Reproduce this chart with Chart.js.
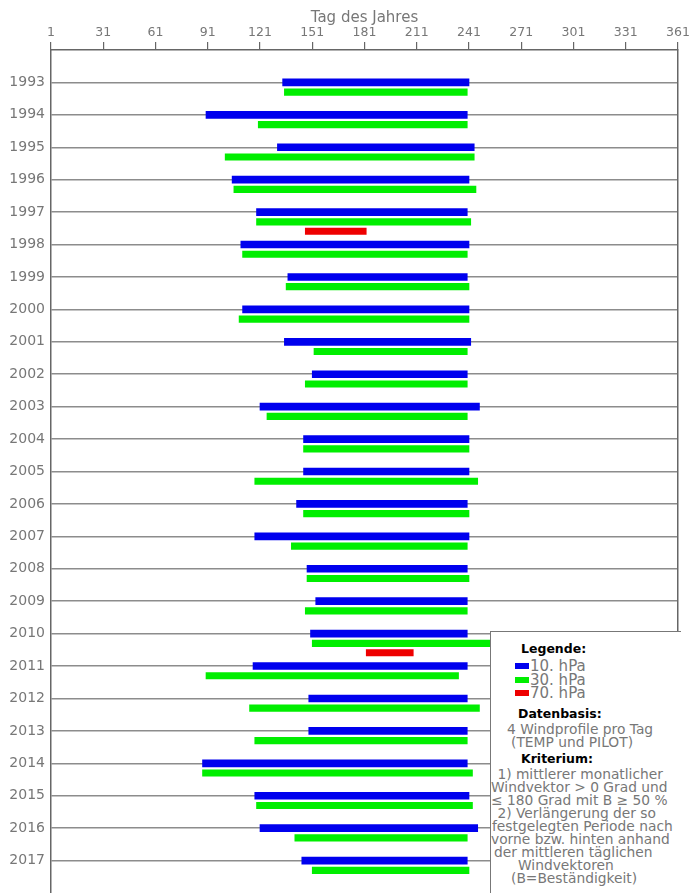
<!DOCTYPE html>
<html>
<head>
<meta charset="utf-8">
<script src="https://cdn.jsdelivr.net/npm/chart.js@4.4.1/dist/chart.umd.min.js"></script>
<style>
body { margin: 0; background: #fff; }
#wrap { position: relative; width: 689px; height: 893px; overflow: hidden; }
#legende {
    position: absolute; left: 490px; top: 631px; width: 190px; height: 270px;
    background: #fff; border-top: 1.5px solid #777; border-left: 1.5px solid #777;
    font-family: "DejaVu Sans", sans-serif;
}
#legende div { position: absolute; white-space: pre; line-height: 16px; font-size: 13.8px; color: #777; }
#legende .head { color: #000; font-weight: bold; font-size: 12.5px; }
#legende .item { font-size: 15px; }
#legende .sw { display: inline-block; width: 14px; height: 6px; vertical-align: 2px; margin-right: 1px; }
</style>
</head>
<body>
<div id="wrap">
    <canvas id="windChart" width="689" height="893"></canvas>
    <div id="legende"></div>
</div>
<script>
const fontFam = "'DejaVu Sans', sans-serif";

// Tag des Jahres (x), Jahre (y)
const years = [1993, 1994, 1995, 1996, 1997, 1998, 1999, 2000, 2001, 2002, 2003, 2004, 2005,
    2006, 2007, 2008, 2009, 2010, 2011, 2012, 2013, 2014, 2015, 2016, 2017];
const dayTicks = [1, 31, 61, 91, 121, 151, 181, 211, 241, 271, 301, 331, 361];

// Perioden [Beginn, Ende] je Jahr
const p10 = [[134,241],[90,240],[131,244],[105,241],[119,240],[110,241],[137,240],[111,241],
    [135,242],[151,240],[121,247],[146,241],[146,241],[142,240],[118,241],[148,240],[153,240],
    [150,240],[117,240],[149,240],[149,240],[88,240],[118,241],[121,246],[145,240]];
const p30 = [[135,240],[120,240],[101,244],[106,245],[119,242],[111,240],[136,241],[109,241],
    [152,240],[147,240],[125,240],[146,241],[118,246],[146,241],[139,240],[148,241],[147,240],
    [151,255],[90,235],[115,247],[118,240],[88,243],[119,243],[141,240],[151,241]];
const p70 = [null,null,null,null,[147,182],null,null,null,null,null,null,null,null,
    null,null,null,null,[182,209],null,null,null,null,null,null,null];

const series = [
    {label: '10. hPa', ranges: p10, color: '#0000ee', offset: 0, thick: 7},
    {label: '30. hPa', ranges: p30, color: '#00ee00', offset: 0.3, thick: 6.5},
    {label: '70. hPa', ranges: p70, color: '#ee0000', offset: 0.59, thick: 6.5}
];

const toBars = (s) => years
    .map((yr, i) => s.ranges[i] ? {x: s.ranges[i], y: yr + s.offset} : null)
    .filter(d => d);

const yMin = 1992, yMax = 2018;
const noPad = (s) => { s.paddingTop = 0; s.paddingBottom = 0; s.paddingLeft = 0; s.paddingRight = 0; };

new Chart(document.getElementById('windChart'), {
    type: 'bar',
    data: {
        datasets: series.map(s => ({
            label: s.label,
            data: toBars(s),
            backgroundColor: s.color,
            barThickness: s.thick,
            borderWidth: 0,
            grouped: false
        }))
    },
    options: {
        indexAxis: 'y',
        responsive: false,
        animation: false,
        layout: {padding: {top: 0, left: 0, right: 11, bottom: 0}},
        plugins: {legend: {display: false}, tooltip: {enabled: false}},
        scales: {
            x: {
                type: 'linear', position: 'top', min: 1, max: 361,
                afterBuildTicks: (s) => { s.ticks = dayTicks.map(v => ({value: v})); },
                afterFit: (s) => { s.height = 50; noPad(s); },
                ticks: {color: '#777', font: {family: fontFam, size: 12.5}, padding: 2,
                    maxRotation: 0, autoSkip: false},
                grid: {drawOnChartArea: false, tickLength: 8, color: '#666', lineWidth: 1.2},
                border: {color: '#666', width: 1.5},
                title: {display: true, text: 'Tag des Jahres', color: '#777',
                    font: {family: fontFam, size: 15}, padding: {top: 9, bottom: 0}}
            },
            y: {
                type: 'linear', reverse: true, min: yMin, max: yMax, offset: false,
                afterBuildTicks: (s) => { s.ticks = [yMin, ...years, yMax].map(v => ({value: v})); },
                afterFit: (s) => { s.width = 51; noPad(s); },
                ticks: {color: '#777', font: {family: fontFam, size: 14}, padding: 6,
                    callback: (v) => years.includes(v) ? String(v) : ''},
                grid: {drawTicks: false, lineWidth: 1.5, offset: false,
                    color: (ctx) => years.includes(ctx.tick && ctx.tick.value) ? '#8c8c8c' : 'rgba(0,0,0,0)'},
                border: {color: '#666', width: 1.5}
            },
            y2: {
                type: 'linear', position: 'right', reverse: true, min: yMin, max: yMax, offset: false,
                afterFit: (s) => { s.width = 0; noPad(s); },
                ticks: {display: false},
                grid: {drawOnChartArea: false, drawTicks: false, offset: false},
                border: {color: '#666', width: 1.5}
            }
        }
    }
});

// Legende
const box = document.getElementById('legende');
const addLine = (x, yc, html, cls) => {
    const d = document.createElement('div');
    if (cls) d.className = cls;
    d.style.left = (x - 490) + 'px';
    d.style.top = (yc - 631 - 8) + 'px';
    d.innerHTML = html;
    box.appendChild(d);
};
addLine(520, 648, 'Legende:', 'head');
series.forEach((s, i) => {
    addLine(514, 665 + i * 13.5, '<span class="sw" style="background:' + s.color + '"></span>' + s.label, 'item');
});
addLine(517, 713, 'Datenbasis:', 'head');
addLine(506, 728, '4 Windprofile pro Tag');
addLine(510, 741, '(TEMP und PILOT)');
addLine(520, 758, 'Kriterium:', 'head');
const krit = [
    [492, ' 1) mittlerer monatlicher'],
    [490, 'Windvektor > 0 Grad und'],
    [490, '≤ 180 Grad mit B ≥ 50 %'],
    [492, ' 2) Verlängerung der so'],
    [491, 'festgelegten Periode nach'],
    [490, 'vorne bzw. hinten anhand'],
    [493, 'der mittleren täglichen'],
    [517, 'Windvektoren'],
    [510, '(B=Beständigkeit)']
];
krit.forEach((k, i) => addLine(k[0], 773 + i * 13, k[1]));
</script>
</body>
</html>
